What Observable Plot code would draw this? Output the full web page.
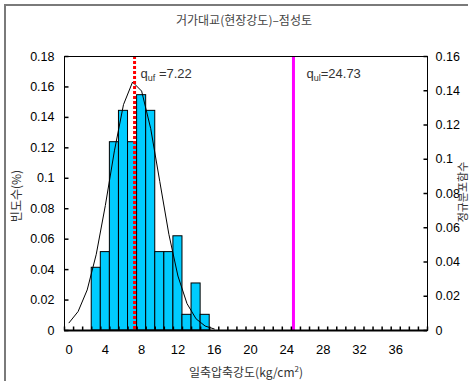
<!DOCTYPE html>
<html>
<head>
<meta charset="utf-8">
<script src="https://cdn.jsdelivr.net/npm/d3@7"></script>
<script src="https://cdn.jsdelivr.net/npm/@observablehq/plot@0.6"></script>
<style>
  html, body { margin: 0; padding: 0; background: #fff; overflow: hidden; }
  #wrap { position: relative; width: 470px; height: 381px; }
  #border { position: absolute; left: 4px; top: 4px; width: 462px; height: 400px;
            border-left: 2px solid #7a7a7a; border-top: 2px solid #7a7a7a; }
  .t { position: absolute; white-space: nowrap; font-size: 12px; color: #333;
       font-family: "Noto Sans CJK KR", "Liberation Sans", sans-serif;
       transform: translate(-50%, -50%); line-height: 1; }
  .rot { transform: translate(-50%, -50%) rotate(-90deg); }
</style>
</head>
<body>
<div id="wrap">
  <div id="border"></div>
  <div class="t" style="left:244px; top:20px; color:#444;">거가대교(현장강도)–점성토</div>
  <div class="t rot" style="left:16px; top:196px;">빈도수(%)</div>
  <div class="t rot" style="left:462px; top:192px; font-size:11px;">정규분포함수</div>
  <div class="t" style="left:246px; top:371px;">일축압축강도(kg/cm<sup style="font-size:8px; vertical-align:5px;">2</sup>)</div>
</div>
<script>
// 강도 구간 중심값(kg/cm²)과 상대빈도 (좌측 축)
const binCenters = [3, 4, 5, 6, 7, 8, 9, 10, 11, 12, 13, 14, 15];
const binFreq = [0.0412, 0.0515, 0.1237, 0.1443, 0.1237, 0.1546, 0.1443,
                 0.0515, 0.0515, 0.0619, 0.0103, 0.0309, 0.0103];

// 정규분포 곡선 (우측 축)
const curveX = [0, 1, 2, 3, 4, 5, 6, 7, 8, 9, 10, 11, 12, 13, 14, 15, 16];
const curveY = [0.0045, 0.0111, 0.0237, 0.0445, 0.0730, 0.1049, 0.1319, 0.1451,
                0.1398, 0.1179, 0.0870, 0.0562, 0.0318, 0.0157, 0.0068, 0.0026, 0.0009];

// 기준 강도
const qValues = [7.22, 24.73];
const qSubs = ["uf", "ul"];
const qRests = [" =7.22", "=24.73"];

// 눈금
const xTickLabels = [0, 4, 8, 12, 16, 20, 24, 28, 32, 36];
const leftTicks = [0, 0.02, 0.04, 0.06, 0.08, 0.1, 0.12, 0.14, 0.16, 0.18];
const rightTicks = [0, 0.02, 0.04, 0.06, 0.08, 0.1, 0.12, 0.14, 0.16];

const leftMax = 0.18, rightMax = 0.16;
const k = leftMax / rightMax; // 우측 축 값을 좌측 축 단위로
const fmt = v => String(+v.toFixed(2));

const bins = binCenters.map((c, i) => ({x1: c - 0.5, x2: c + 0.5, y: binFreq[i]}));
const curve = curveX.map((x, i) => ({x, y: curveY[i] * k}));

// 안쪽으로 향하는 짧은 눈금 기호
const tickRight = {draw(c) { c.moveTo(0, 0); c.lineTo(4, 0); }};
const tickLeft = {draw(c) { c.moveTo(0, 0); c.lineTo(-4, 0); }};
const tickUp = {draw(c) { c.moveTo(0, 0); c.lineTo(0, -4); }};
const catBounds = d3.range(-0.5, 40, 1);

const qLabel = (i, dx) => Plot.text([i], {
  x: j => qValues[j], text: j => "q" + qSubs[j] + qRests[j],
  frameAnchor: "top", dy: 21, dx, textAnchor: "start", lineAnchor: "bottom",
  fontSize: 13, fill: "#333"
});

const plot = Plot.plot({
  width: 470, height: 381,
  marginLeft: 64, marginRight: 43, marginTop: 56, marginBottom: 51,
  style: {fontFamily: "'Liberation Sans', Arial, sans-serif", fontSize: "12.5px",
          background: "transparent", color: "#000", overflow: "visible"},
  x: {domain: [-0.5, 39.5], axis: null, label: null},
  y: {domain: [0, leftMax], axis: null, label: null},
  marks: [
    Plot.rectY(bins, {x1: "x1", x2: "x2", y: "y", fill: "#00ccff", stroke: "#000", strokeWidth: 1}),
    Plot.line(curve, {x: "x", y: "y", stroke: "#000", strokeWidth: 1}),
    Plot.ruleX([qValues[1]], {stroke: "#ff00ff", strokeWidth: 3}),
    Plot.ruleX([qValues[0]], {stroke: "#ff0000", strokeWidth: 3, strokeDasharray: "3,2"}),
    qLabel(0, 6),
    qLabel(1, 13),
    Plot.frame({stroke: "#000", strokeWidth: 1}),
    Plot.ruleY([0], {stroke: "#000", strokeWidth: 2}),
    Plot.dot(leftTicks, {y: d => d, frameAnchor: "left", symbol: tickRight, stroke: "#000", r: 4}),
    Plot.dot(rightTicks, {y: d => d * k, frameAnchor: "right", symbol: tickLeft, stroke: "#000", r: 4}),
    Plot.dot(catBounds, {x: d => d, frameAnchor: "bottom", symbol: tickUp, stroke: "#000", r: 4}),
    Plot.axisY(leftTicks, {anchor: "left", tickSize: 0, tickPadding: 10, tickFormat: fmt}),
    Plot.axisY(rightTicks.map(t => t * k), {anchor: "right", tickSize: 0, tickPadding: 8,
      tickFormat: v => fmt(v / k)}),
    Plot.axisX(xTickLabels, {anchor: "bottom", tickSize: 0, tickPadding: 14, fontSize: 13})
  ]
});

// 아래첨자(uf, ul) 처리
d3.select(plot).selectAll("text").each(function () {
  const m = /^q(u[fl])(.*)$/.exec(this.textContent);
  if (!m) return;
  const t = d3.select(this);
  t.text(null);
  t.append("tspan").text("q");
  t.append("tspan").attr("font-size", 9).attr("dy", 3).text(m[1]);
  t.append("tspan").attr("dy", -3).text(m[2]);
});

document.getElementById("wrap").prepend(plot);
plot.style.position = "absolute";
plot.style.left = "0";
plot.style.top = "0";
</script>
</body>
</html>
